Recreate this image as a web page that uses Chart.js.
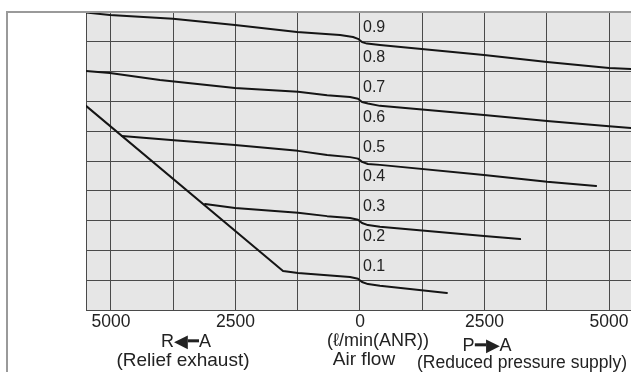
<!DOCTYPE html>
<html>
<head>
<meta charset="utf-8">
<script src="https://cdn.jsdelivr.net/npm/chart.js@4/dist/chart.umd.min.js"></script>
<style>
  html, body { margin: 0; padding: 0; background: #ffffff; }
  #wrap { width: 631px; height: 372px; position: relative; }
</style>
</head>
<body>
<div id="wrap"><canvas id="c" width="631" height="372"></canvas></div>
<script>
// ---- data (flow in l/min(ANR): negative = R<-A relief exhaust, positive = P->A supply; pressure in MPa)
const xTicks = [-5000, -3750, -2500, -1250, 0, 1250, 2500, 3750, 5000];
const xTickLabels = { "-5000": "5000", "-2500": "2500", "0": "0", "2500": "2500", "5000": "5000" };
const pressureLabels = ["0.9", "0.8", "0.7", "0.6", "0.5", "0.4", "0.3", "0.2", "0.1"];

const curve09 = [
  [-5500, 0.998], [-5020, 0.990], [-3755, 0.977], [-2510, 0.956], [-1265, 0.933],
  [-400, 0.923], [-140, 0.916], [-40, 0.910], [40, 0.899], [140, 0.894],
  [400, 0.889], [2490, 0.856], [3755, 0.832], [5000, 0.812], [5440, 0.809]
];
const curve07 = [
  [-5500, 0.802], [-5020, 0.795], [-4015, 0.772], [-2510, 0.745], [-1245, 0.732],
  [-660, 0.721], [-200, 0.715], [-40, 0.709], [40, 0.698], [160, 0.693],
  [400, 0.685], [2490, 0.654], [3755, 0.634], [5000, 0.617], [5440, 0.611]
];
const curve05 = [
  [-4780, 0.584], [-3735, 0.570], [-2510, 0.554], [-1245, 0.534], [-660, 0.520],
  [-200, 0.513], [-40, 0.508], [40, 0.497], [160, 0.490], [400, 0.487],
  [2490, 0.453], [3755, 0.430], [4740, 0.416]
];
const curve03 = [
  [-3110, 0.356], [-2510, 0.342], [-1245, 0.326], [-660, 0.315], [-200, 0.309],
  [-40, 0.303], [40, 0.292], [160, 0.285], [400, 0.279], [2490, 0.248], [3215, 0.238]
];
const curve01 = [
  [-5500, 0.685], [-1545, 0.131], [-1245, 0.124], [-660, 0.117], [-200, 0.111],
  [-40, 0.105], [40, 0.094], [160, 0.087], [400, 0.081], [1745, 0.057]
];

const toPts = arr => arr.map(p => ({ x: p[0], y: p[1] }));

const lineDs = (arr) => ({
  data: toPts(arr),
  showLine: true,
  borderColor: '#151515',
  borderWidth: 2,
  pointRadius: 0,
  fill: false,
  tension: 0,
  borderJoinStyle: 'round',
  borderCapStyle: 'round'
});

const FONT = '"Liberation Sans", Arial, sans-serif';

const bgPlugin = {
  id: 'bg',
  beforeDraw(chart) {
    const { ctx, chartArea: a } = chart;
    ctx.save();
    ctx.fillStyle = '#e6e6e6';
    ctx.fillRect(a.left, a.top, a.right - a.left, a.bottom - a.top);
    ctx.restore();
  },
  afterDraw(chart) {
    const { ctx, chartArea: a, scales } = chart;
    ctx.save();
    // outer frame
    ctx.strokeStyle = '#9a9a9a';
    ctx.lineWidth = 2;
    ctx.beginPath();
    ctx.moveTo(7, 372);
    ctx.lineTo(7, a.top);
    ctx.lineTo(631, a.top);
    ctx.stroke();
    // pressure labels beside the zero line
    ctx.fillStyle = '#222';
    ctx.font = '16px ' + FONT;
    ctx.textAlign = 'left';
    ctx.textBaseline = 'middle';
    const x0 = scales.x.getPixelForValue(0) + 3;
    pressureLabels.forEach(t => {
      const v = parseFloat(t) + 0.046;
      ctx.fillText(t, x0, scales.y.getPixelForValue(v));
    });
    // axis captions
    ctx.textAlign = 'center';
    ctx.font = '18px ' + FONT;
    ctx.fillText('R\u25C0\u2501A', 186, 342);
    ctx.font = '19px ' + FONT;
    ctx.fillText('(Relief exhaust)', 183, 361);
    ctx.fillText('Air flow', 364, 360);
    ctx.font = '18px ' + FONT;
    ctx.fillText('P\u2501\u25B6A', 487, 346);
    ctx.font = '18px ' + FONT;
    ctx.fillText('(\u2113/min(ANR))', 378, 341);
    ctx.font = '17.5px ' + FONT;
    ctx.fillText('(Reduced pressure supply)', 522, 363);
    ctx.restore();
  }
};

new Chart(document.getElementById('c'), {
  type: 'scatter',
  data: {
    datasets: [lineDs(curve09), lineDs(curve07), lineDs(curve05), lineDs(curve03), lineDs(curve01)]
  },
  options: {
    responsive: false,
    devicePixelRatio: 1,
    animation: false,
    layout: { padding: { top: 12, right: 0, left: 0, bottom: 0 } },
    plugins: { legend: { display: false }, tooltip: { enabled: false } },
    scales: {
      x: {
        type: 'linear',
        min: -5500,
        max: 5440,
        afterBuildTicks(axis) { axis.ticks = xTicks.map(v => ({ value: v })); },
        afterFit(scale) { scale.height = 62; },
        grid: { color: '#4a4a4a', lineWidth: 1, drawTicks: false },
        border: { display: true, color: '#4a4a4a', width: 1 },
        ticks: {
          autoSkip: false,
          maxRotation: 0,
          padding: 2,
          color: '#222',
          font: { family: FONT, size: 17.5 },
          callback(v) { return xTickLabels[String(v)] || ''; }
        }
      },
      y: {
        type: 'linear',
        min: 0,
        max: 1,
        afterFit(scale) { scale.width = 86; },
        grid: {
          color(ctx) { return ctx.tick && ctx.tick.value >= 0.999 ? '#9a9a9a' : '#4a4a4a'; },
          lineWidth: 1,
          drawTicks: false
        },
        border: { display: true, color: '#4a4a4a', width: 1 },
        ticks: { display: false, stepSize: 0.1 }
      }
    }
  },
  plugins: [bgPlugin]
});
</script>
</body>
</html>
